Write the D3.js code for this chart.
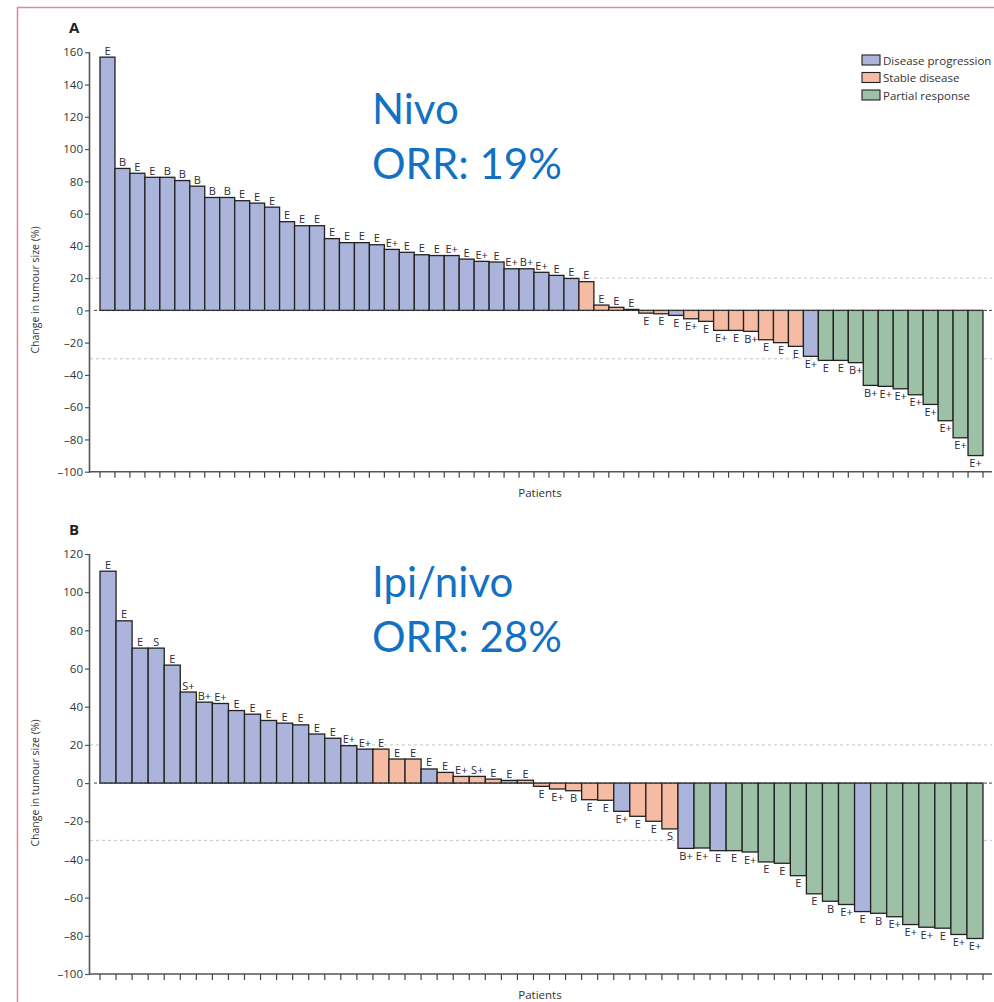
<!DOCTYPE html>
<html>
<head>
<meta charset="utf-8">
<script src="https://cdn.jsdelivr.net/npm/d3@7"></script>
<style>
  body { margin: 0; background: #fff; }
  svg { display: block; }
</style>
</head>
<body>
<div id="chart"></div>
<script>
// Panel A - nivolumab
const nivoValues = [157, 88, 85, 82.5, 82.5, 80.5, 77, 70, 70, 68, 66.5, 64, 55, 52.5, 52.5, 44.5,
  42, 42, 40.7, 37.8, 36, 34.5, 34, 34, 31.8, 30.4, 30, 25.8, 25.8, 23.6, 21.7, 19.8,
  17.8, 3.3, 1.9, 0.6, -1.7, -2.1, -3.1, -5.2, -6.8, -12.4, -12.4, -13, -18.2, -20, -22.3,
  -28.5, -31, -31, -32.4, -46.5, -47.1, -48.6, -52.3, -58.3, -68.4, -79, -90];
const nivoResponse = ["PD","PD","PD","PD","PD","PD","PD","PD","PD","PD","PD","PD","PD","PD","PD","PD",
  "PD","PD","PD","PD","PD","PD","PD","PD","PD","PD","PD","PD","PD","PD","PD","PD",
  "SD","SD","SD","SD","SD","SD","PD","SD","SD","SD","SD","SD","SD","SD","SD",
  "PD","PR","PR","PR","PR","PR","PR","PR","PR","PR","PR","PR"];
const nivoLabels = ["E","B","E","E","B","B","B","B","B","E","E","E","E","E","E","E",
  "E","E","E","E+","E","E","E","E+","E","E+","E","E+","B+","E+","E","E",
  "E","E","E","E","E","E","E","E+","E","E+","E","B+","E","E","E",
  "E+","E","E","B+","B+","E+","E+","E+","E+","E+","E+","E+"];

// Panel B - ipilimumab + nivolumab
const ipiValues = [111, 85, 70.7, 70.7, 61.8, 47.7, 42.4, 41.7, 38, 36.1, 32.8, 31.4, 30.5, 25.7, 23.5,
  19.6, 17.8, 17.8, 12.6, 12.6, 7.4, 5.6, 3.5, 3.5, 2.1, 1.4, 1.5,
  -1.7, -3.1, -4, -8.7, -9, -14.8, -17.4, -20, -24,
  -34.2, -34, -35.4, -35.4, -36.1, -41.3, -42, -48.5, -58, -61.9, -63.6, -67.3, -68.2, -70,
  -74.1, -75.5, -76, -79.3, -81.4];
const ipiResponse = ["PD","PD","PD","PD","PD","PD","PD","PD","PD","PD","PD","PD","PD","PD","PD",
  "PD","PD","SD","SD","SD","PD","SD","SD","SD","SD","PD","SD",
  "SD","SD","SD","SD","SD","PD","SD","SD","SD",
  "PD","PR","PD","PR","PR","PR","PR","PR","PR","PR","PR","PD","PR","PR",
  "PR","PR","PR","PR","PR"];
const ipiLabels = ["E","E","E","S","E","S+","B+","E+","E","E","E","E","E","E","E",
  "E+","E+","E","E","E","E","E","E+","S+","E","E","E",
  "E","E+","B","E","E","E+","E","E","S",
  "B+","E+","E","E","E+","E","E","E","E","B","E+","E","B","E+",
  "E+","E+","E","E+","E+"];

const yTicksA = [160, 140, 120, 100, 80, 60, 40, 20, 0, -20, -40, -60, -80, -100];
const yTicksB = [120, 100, 80, 60, 40, 20, 0, -20, -40, -60, -80, -100];

const responseNames = ["Disease progression", "Stable disease", "Partial response"];
const responseKeys = ["PD", "SD", "PR"];
const color = d3.scaleOrdinal().domain(responseKeys).range(["#abb4db", "#f6bca3", "#9dc1a6"]);

const width = 994, height = 1002;
const svg = d3.select("#chart").append("svg")
  .attr("width", width)
  .attr("height", height)
  .style("font-family", "'Open Sans', sans-serif");

// pink frame of the figure
svg.append("path")
  .attr("d", "M17.5,1010 V7.5 H1000")
  .attr("fill", "none")
  .attr("stroke", "#dc8ca2")
  .attr("stroke-width", 1.6);

function drawPanel(opts) {
  const { values, response, labels, domain, ticks, top, bottom, letter, title, orr, labelCenter } = opts;
  const g = svg.append("g");
  const axisX = 90, x0 = 100, x1 = 983, xEnd = 992;

  const x = d3.scaleBand().domain(d3.range(values.length)).range([x0, x1]).padding(0);
  const y = d3.scaleLinear().domain(domain).range([bottom, top]);

  // reference lines at +20 and -30
  [20, -30].forEach(v => {
    g.append("line")
      .attr("x1", axisX).attr("x2", xEnd)
      .attr("y1", y(v)).attr("y2", y(v))
      .attr("stroke", "#c4c4c4").attr("stroke-width", 1)
      .attr("stroke-dasharray", "3,3");
  });

  // bars
  g.selectAll("rect.bar")
    .data(values)
    .join("rect")
    .attr("class", "bar")
    .attr("x", (d, i) => x(i))
    .attr("width", x.bandwidth())
    .attr("y", d => y(Math.max(0, d)))
    .attr("height", d => Math.abs(y(d) - y(0)))
    .attr("fill", (d, i) => color(response[i]))
    .attr("stroke", "#222")
    .attr("stroke-width", 1.3);

  // zero line
  g.append("line")
    .attr("x1", axisX + 4).attr("x2", xEnd)
    .attr("y1", y(0)).attr("y2", y(0))
    .attr("stroke", "#444").attr("stroke-width", 1)
    .attr("stroke-dasharray", "3,2");

  // bar annotations
  g.selectAll("text.lab")
    .data(values)
    .join("text")
    .attr("class", "lab")
    .attr("x", (d, i) => x(i) + x.bandwidth() / 2)
    .attr("y", d => d >= 0 ? y(d) - 2.5 : y(d) + 11.5)
    .attr("text-anchor", "middle")
    .attr("font-size", 11)
    .attr("fill", "#2a2a3a")
    .text((d, i) => labels[i]);

  // y axis
  const yAxis = d3.axisLeft(y).tickValues(ticks).tickSize(5).tickPadding(2).tickFormat(d3.format("d"));
  const ya = g.append("g").attr("transform", `translate(${axisX},0)`).call(yAxis);
  ya.select(".domain").attr("stroke", "#555").attr("stroke-width", 1.6)
    .attr("d", `M-0.5,${y(domain[1])}V${y(domain[0]) + 1}`);
  ya.selectAll(".tick line").attr("stroke", "#555").attr("stroke-width", 1.2);
  ya.selectAll(".tick text").attr("font-size", 11.5).attr("fill", "#333")
    .attr("font-family", "'Open Sans', sans-serif")
    .text(d => d < 0 ? "\u2013" + Math.abs(d) : d);

  // x axis with a tick at each bar boundary
  const xa = g.append("g");
  xa.append("line")
    .attr("x1", axisX - 1).attr("x2", xEnd)
    .attr("y1", bottom).attr("y2", bottom)
    .attr("stroke", "#555").attr("stroke-width", 1.6);
  const edges = d3.range(values.length + 1).map(i => i < values.length ? x(i) : x1);
  xa.selectAll("line.tk")
    .data(edges)
    .join("line")
    .attr("class", "tk")
    .attr("x1", d => d).attr("x2", d => d)
    .attr("y1", bottom).attr("y2", bottom + 6)
    .attr("stroke", "#444").attr("stroke-width", 1.2);

  g.append("text")
    .attr("x", 540).attr("y", bottom + 25)
    .attr("text-anchor", "middle")
    .attr("font-size", 11.5).attr("fill", "#333")
    .text("Patients");

  g.append("text")
    .attr("transform", `translate(39,${labelCenter}) rotate(-90)`)
    .attr("text-anchor", "middle")
    .attr("font-size", 10.5).attr("fill", "#333")
    .text("Change in tumour size (%)");

  g.append("text")
    .attr("x", 69).attr("y", top - 19)
    .attr("font-size", 15).attr("font-weight", "bold").attr("fill", "#222")
    .text(letter);

  // big annotation
  const ann = g.append("text")
    .attr("font-family", "Lato, sans-serif")
    .attr("font-size", 42)
    .attr("fill", "#1271c2");
  ann.append("tspan").attr("x", 372).attr("y", opts.annY).text(title);
  ann.append("tspan").attr("x", 372).attr("y", opts.annY + 55).text(orr);
}

drawPanel({
  values: nivoValues, response: nivoResponse, labels: nivoLabels,
  domain: [-100, 160], ticks: yTicksA, top: 52.3, bottom: 471.7,
  letter: "A", title: "Nivo", orr: "ORR: 19%", annY: 124, labelCenter: 290
});

drawPanel({
  values: ipiValues, response: ipiResponse, labels: ipiLabels,
  domain: [-100, 120], ticks: yTicksB, top: 554, bottom: 974,
  letter: "B", title: "Ipi/nivo", orr: "ORR: 28%", annY: 597, labelCenter: 783
});

// legend
const legend = svg.append("g").attr("transform", "translate(862,55)");
responseKeys.forEach((k, i) => {
  const row = legend.append("g").attr("transform", `translate(0,${i * 17.5})`);
  row.append("rect")
    .attr("width", 18).attr("height", 10)
    .attr("fill", color(k)).attr("stroke", "#222").attr("stroke-width", 1.1);
  row.append("text")
    .attr("x", 21).attr("y", 9.5)
    .attr("font-size", 11.5).attr("fill", "#333")
    .text(responseNames[i]);
});
</script>
</body>
</html>
